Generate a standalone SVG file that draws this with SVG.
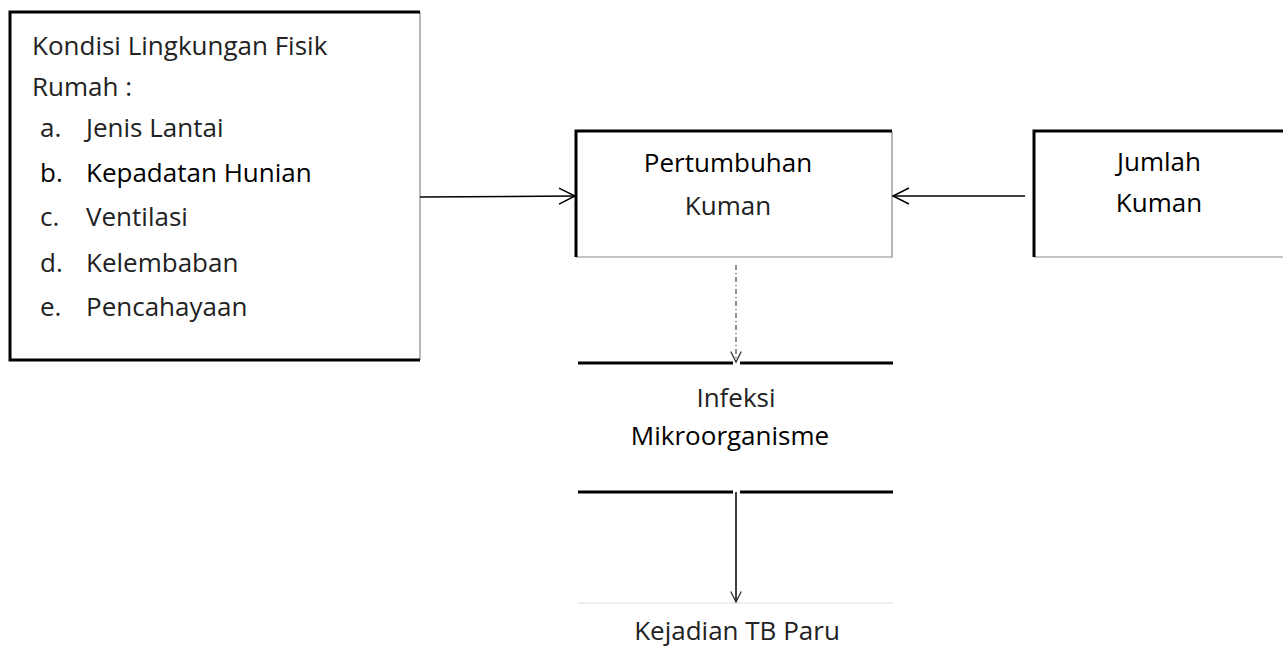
<svg xmlns="http://www.w3.org/2000/svg" width="1283" height="649" viewBox="0 0 1283 649">
<defs>
<style>
text{font-family:"Open Sans","Liberation Sans",sans-serif;font-size:26px;fill:#000}
.c{text-anchor:middle}
.thick{stroke:#000;stroke-width:3;fill:none}
.thin{stroke:#888;stroke-width:1.2;fill:none}
.edge{stroke:#000;stroke-width:1.5;fill:none}
.soft{fill:#222}
</style>
<marker id="arr" viewBox="0 0 20 20" refX="18" refY="10" markerWidth="20" markerHeight="20" markerUnits="userSpaceOnUse" orient="auto">
<path d="M2,2 L18,10 L2,18" fill="none" stroke="#000" stroke-width="1.5"/>
</marker>
<marker id="arrs" viewBox="0 0 16 16" refX="14" refY="8" markerWidth="14" markerHeight="14" markerUnits="userSpaceOnUse" orient="auto">
<path d="M2,2 L14,8 L2,14" fill="none" stroke="#333" stroke-width="1.5"/>
</marker>
</defs>
<rect width="1283" height="649" fill="#fff"/>
<g id="kondisi">
<path class="thin" d="M420,12 V360"/>
<path class="thick" d="M420,12 H10 V360 H420"/>
<text class="soft" x="32" y="55">Kondisi Lingkungan Fisik</text>
<text class="soft" x="32" y="96">Rumah :</text>
<text class="soft" x="40" y="137">a.</text><text class="soft" x="86" y="137">Jenis Lantai</text>
<text x="40" y="182">b.</text><text x="86" y="182">Kepadatan  Hunian</text>
<text class="soft" x="40" y="226">c.</text><text class="soft" x="86" y="226">Ventilasi</text>
<text class="soft" x="40" y="272">d.</text><text class="soft" x="86" y="272">Kelembaban</text>
<text class="soft" x="40" y="316">e.</text><text class="soft" x="86" y="316">Pencahayaan</text>
</g>
<g id="pertumbuhan">
<path class="thin" d="M892,131 V257 H576"/>
<path class="thick" d="M576,257 V131 H892"/>
<text class="c" x="728" y="172">Pertumbuhan</text>
<text class="c soft" x="728" y="215">Kuman</text>
</g>
<g id="jumlah">
<path class="thin" d="M1034,257 H1283"/>
<path class="thick" d="M1034,257 V131 H1283"/>
<text class="c" x="1159" y="171">Jumlah</text>
<text class="c" x="1159" y="212">Kuman</text>
</g>
<g id="infeksi">
<path class="thick" d="M578,363 H733 M740,363 H893" stroke-width="2.5"/>
<text class="c soft" x="736" y="407">Infeksi</text>
<text class="c" x="730" y="445">Mikroorganisme</text>
</g>
<g id="kejadian">
<path d="M578,603 H893" stroke="#ddd" stroke-width="1"/>
<text class="c soft" x="737" y="640">Kejadian TB Paru</text>
</g>
<g id="connectors">
<path class="edge" d="M420,197 L575,196" marker-end="url(#arr)"/>
<path class="edge" d="M1025,196 L893,196" marker-end="url(#arr)"/>
<path d="M736,265 V362" stroke="#444" stroke-width="1.2" stroke-dasharray="5,3,1,3" fill="none" marker-end="url(#arrs)"/>
<path class="edge" d="M736,492 V602" stroke="#333" marker-end="url(#arrs)"/>
<path class="thick" d="M578,492 H733 M740,492 H893" stroke="#555" stroke-width="2.5"/>
</g>
</svg>
